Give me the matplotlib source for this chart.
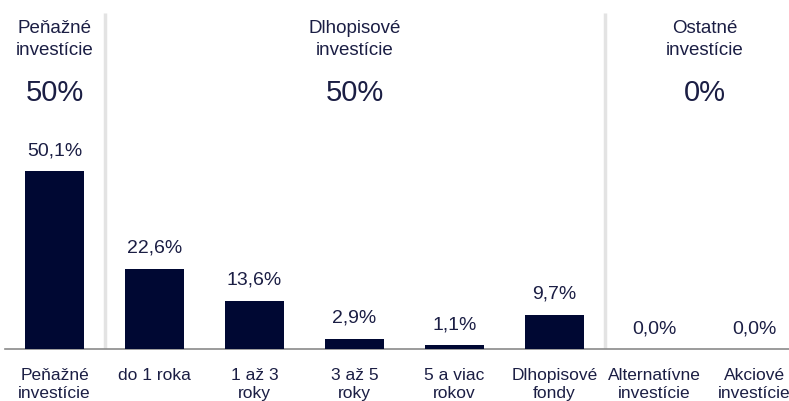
import matplotlib.pyplot as plt

categories = ["Peňažné\ninvestície", "do 1 roka", "1 až 3\nroky", "3 až 5\nroky",
              "5 a viac\nrokov", "Dlhopisové\nfondy", "Alternatívne\ninvestície",
              "Akciové\ninvestície"]
values = [50.1, 22.6, 13.6, 2.9, 1.1, 9.7, 0.0, 0.0]
groups = ["Peňažné\ninvestície", "Dlhopisové\ninvestície", "Ostatné\ninvestície"]
group_totals = ["50%", "50%", "0%"]
group_centers = [0, 3, 6.5]
separators = [0.5, 5.5]

bar_color = "#000833"
text_color = "#1b1e44"
plt.rcParams["font.family"] = ["Liberation Sans", "DejaVu Sans"]

W, H = 789, 401
fig = plt.figure(figsize=(W / 100, H / 100), dpi=100)
ax = fig.add_axes([4.5 / W, 52 / H, 1 - 4.5 / W, 349 / H])

px_per_unit = 178 / 50.1
ax.set_xlim(-0.5, -0.5 + (W - 4.5) / 100)
ax.set_ylim(0, 349 / px_per_unit)

x = list(range(len(values)))
ax.bar(x, values, width=0.59, color=bar_color, zorder=3)

for xi, v in zip(x, values):
    ax.annotate(f"{v:.1f}".replace(".", ",") + "%", (xi, v), xytext=(0, 11.5),
                textcoords="offset points", ha="center", va="baseline",
                fontsize=14, color=text_color)

top = (349 - 13) / px_per_unit
ax.vlines(separators, 0, top, colors="#e3e3e3", linewidth=2.5, zorder=1)

for gx, g, t in zip(group_centers, groups, group_totals):
    ax.text(gx, (349 - 55) / px_per_unit, g, ha="center", va="baseline",
            fontsize=13.5, color=text_color, linespacing=1.4)
    ax.text(gx, (349 - 101) / px_per_unit, t, ha="center", va="baseline",
            fontsize=21, color=text_color)

ax.set_xticks(x)
ax.set_xticklabels(categories, fontsize=12.5, color=text_color, linespacing=1.22)
ax.tick_params(axis="x", length=0, pad=14)
ax.set_yticks([])
for s in ["top", "right", "left"]:
    ax.spines[s].set_visible(False)
ax.spines["bottom"].set_color("#8a8a8a")
ax.spines["bottom"].set_linewidth(1.2)

fig.savefig("out.png", dpi=100)
